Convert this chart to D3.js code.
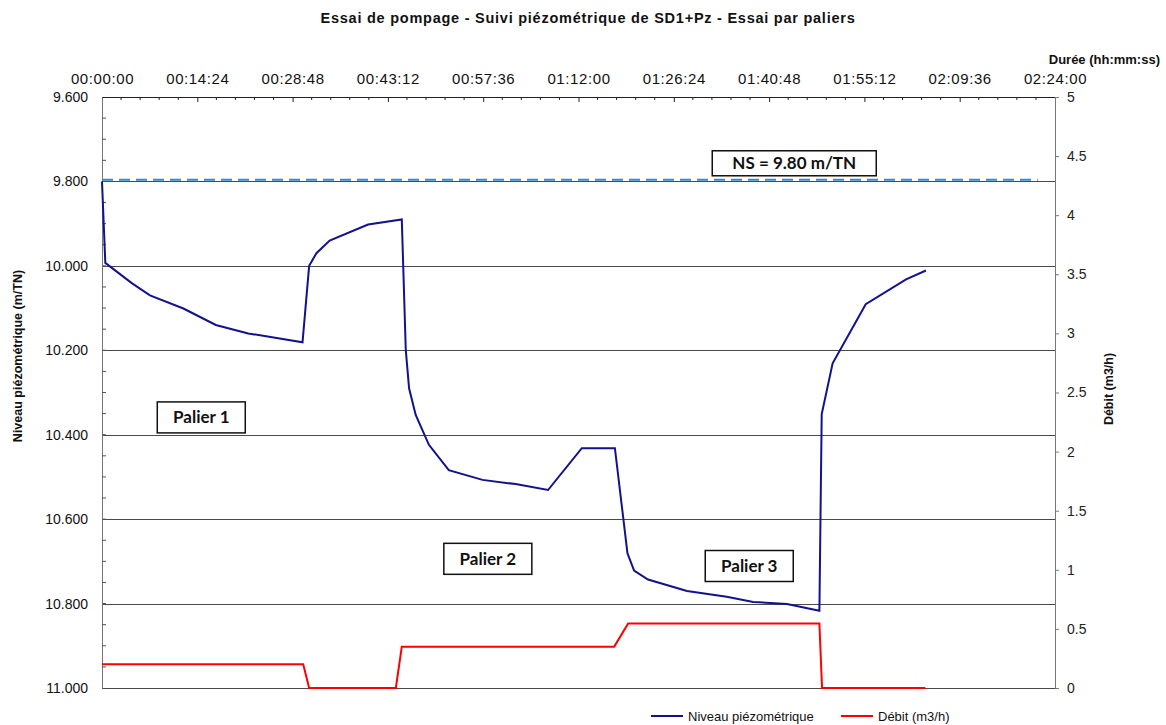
<!DOCTYPE html>
<html>
<head>
<meta charset="utf-8">
<script src="https://cdn.jsdelivr.net/npm/d3@7"></script>
<style>
  body { margin: 0; background: #fff; }
  svg { display: block; font-family: "Liberation Sans", Arial, sans-serif; }
</style>
</head>
<body>
<svg id="chart" width="1166" height="725"></svg>
<script>
// time in minutes since start of pumping
const niveauTime = [0, 0.5, 4.5, 7.25, 12.3, 17.2, 22.1, 30.3, 31.3, 32.4, 34.4, 40.2, 45.3, 45.9, 46.4, 47.4, 49.4, 52.4, 57.5, 62.5, 67.4, 72.5, 77.5, 79.4, 80.4, 82.5, 88.4, 94.4, 98.4, 103.5, 108.4, 108.75, 110.4, 115.4, 121.5, 124.5];
const niveauValue = [9.80, 9.993, 10.041, 10.070, 10.101, 10.140, 10.160, 10.181, 10.000, 9.970, 9.940, 9.902, 9.890, 10.199, 10.290, 10.353, 10.424, 10.484, 10.507, 10.517, 10.531, 10.432, 10.432, 10.681, 10.722, 10.743, 10.770, 10.784, 10.796, 10.801, 10.817, 10.351, 10.231, 10.091, 10.032, 10.011];

const debitTime = [0, 30.4, 31.3, 44.4, 45.3, 77.4, 79.5, 108.4, 108.8, 124.4];
const debitValue = [0.2, 0.2, 0, 0, 0.35, 0.35, 0.545, 0.545, 0, 0];

const nsTime = [0, 141.4];
const nsValue = [9.796, 9.796];

const xTicks = d3.range(0, 145, 14.4);          // minutes
const yLeftTicks = d3.range(9.6, 11.0001, 0.2);
const yRightTicks = d3.range(0, 5.0001, 0.5);

const labels = [
  { text: 'Palier 1', t: 15.0, v: 10.359 },
  { text: 'Palier 2', t: 58.3, v: 10.694 },
  { text: 'Palier 3', t: 97.8, v: 10.711 }
];
const nsLabel = { text: 'NS = 9.80 m/TN', t: 104.6, v: 9.757 };

const svg = d3.select('#chart');
const pLeft = 102, pRight = 1055, pTop = 97, pBottom = 688;

const x = d3.scaleLinear().domain([0, 144]).range([pLeft, pRight]);
const y = d3.scaleLinear().domain([9.6, 11.0]).range([pTop, pBottom]);
const y2 = d3.scaleLinear().domain([0, 5]).range([pBottom, pTop]);

function fmtTime(m) {
  const s = Math.round(m * 60);
  const hh = Math.floor(s / 3600), mm = Math.floor((s % 3600) / 60), ss = s % 60;
  return [hh, mm, ss].map(d => String(d).padStart(2, '0')).join(':');
}

// title
svg.append('text')
  .attr('x', 588).attr('y', 23)
  .attr('text-anchor', 'middle')
  .attr('font-weight', 'bold').attr('font-size', 14.5)
  .attr('letter-spacing', 0.75)
  .attr('fill', '#111')
  .text('Essai de pompage - Suivi piézométrique de SD1+Pz - Essai par paliers');

// gridlines
svg.append('g').selectAll('line')
  .data(yLeftTicks.slice(1))
  .join('line')
  .attr('x1', pLeft).attr('x2', pRight)
  .attr('y1', d => Math.round(y(d)) + 0.5).attr('y2', d => Math.round(y(d)) + 0.5)
  .attr('stroke', '#4a4a4a').attr('stroke-width', 1);

// top axis
const xAxis = svg.append('g')
  .attr('transform', `translate(0,${pTop})`)
  .call(d3.axisTop(x).tickValues(xTicks).tickFormat(fmtTime).tickSizeInner(-5).tickSizeOuter(0));
xAxis.select('.domain').attr('stroke', '#222');
xAxis.selectAll('.tick line').attr('stroke', '#222');
xAxis.selectAll('text').attr('dy', -13).attr('y', 0).attr('font-size', 15).attr('letter-spacing', 0.6)
  .attr('fill', '#111')
  .attr('font-family', '"Liberation Sans", Arial, sans-serif');
svg.append('g')
  .attr('transform', `translate(0,${pTop})`)
  .selectAll('line')
  .data(d3.range(0, 144, 2.88).filter(d => Math.abs(d % 14.4) > 0.01 && Math.abs(d % 14.4 - 14.4) > 0.01))
  .join('line')
  .attr('x1', d => x(d)).attr('x2', d => x(d))
  .attr('y1', 0).attr('y2', 3)
  .attr('stroke', '#222');

svg.append('text')
  .attr('x', 1160).attr('y', 64)
  .attr('text-anchor', 'end')
  .attr('font-weight', 'bold').attr('font-size', 13)
  .attr('fill', '#111')
  .text('Durée (hh:mm:ss)');

// left axis
const yAxis = svg.append('g')
  .attr('transform', `translate(${pLeft},0)`)
  .call(d3.axisLeft(y).tickValues(yLeftTicks).tickFormat(d3.format('.3f')).tickSize(0).tickPadding(14));
yAxis.select('.domain').attr('stroke', '#777');
yAxis.selectAll('text').attr('font-size', 14).attr('fill', '#111')
  .attr('font-family', '"Liberation Sans", Arial, sans-serif');
svg.append('g')
  .selectAll('line')
  .data(d3.range(9.65, 11.0, 0.05))
  .join('line')
  .attr('x1', pLeft).attr('x2', pLeft + 4)
  .attr('y1', d => y(d)).attr('y2', d => y(d))
  .attr('stroke', '#555');

svg.append('text')
  .attr('transform', `translate(22,356) rotate(-90)`)
  .attr('text-anchor', 'middle')
  .attr('font-weight', 'bold').attr('font-size', 12.5)
  .attr('fill', '#111')
  .text('Niveau piézométrique (m/TN)');

// right axis
const y2Axis = svg.append('g')
  .attr('transform', `translate(${pRight},0)`)
  .call(d3.axisRight(y2).tickValues(yRightTicks).tickFormat(d3.format('')).tickSizeInner(4).tickSizeOuter(0).tickPadding(8));
y2Axis.select('.domain').attr('stroke', '#777');
y2Axis.selectAll('.tick line').attr('stroke', '#777');
y2Axis.selectAll('text').attr('font-size', 14).attr('fill', '#222')
  .attr('font-family', '"Liberation Sans", Arial, sans-serif');

svg.append('text')
  .attr('transform', `translate(1113,389) rotate(-90)`)
  .attr('text-anchor', 'middle')
  .attr('font-weight', 'bold').attr('font-size', 12.5)
  .attr('fill', '#111')
  .text('Débit (m3/h)');

// NS line
svg.append('path')
  .datum(nsTime.map((t, i) => [t, nsValue[i]]))
  .attr('d', d3.line().x(d => x(d[0])).y(d => y(d[1])))
  .attr('fill', 'none')
  .attr('stroke', '#2f8bd6').attr('stroke-width', 2)
  .attr('stroke-dasharray', '11,6');

// series
svg.append('path')
  .datum(debitTime.map((t, i) => [t, debitValue[i]]))
  .attr('d', d3.line().x(d => x(d[0])).y(d => y2(d[1])))
  .attr('fill', 'none')
  .attr('stroke', '#ff0000').attr('stroke-width', 2);

svg.append('path')
  .datum(niveauTime.map((t, i) => [t, niveauValue[i]]))
  .attr('d', d3.line().x(d => x(d[0])).y(d => y(d[1])))
  .attr('fill', 'none')
  .attr('stroke', '#12128c').attr('stroke-width', 2);

// text boxes
function box(lbl, w, h) {
  const cx = x(lbl.t), cy = y(lbl.v);
  svg.append('rect')
    .attr('x', cx - w / 2).attr('y', cy - h / 2)
    .attr('width', w).attr('height', h)
    .attr('fill', '#fff').attr('stroke', '#111').attr('stroke-width', 1.5);
  svg.append('text')
    .attr('x', cx).attr('y', cy + 6)
    .attr('text-anchor', 'middle')
    .attr('font-family', 'Lato, "Open Sans", sans-serif')
    .attr('font-weight', 'bold').attr('font-size', 17)
    .attr('fill', '#111')
    .text(lbl.text);
}
labels.forEach(l => box(l, 88, 31));
box(nsLabel, 164, 25);

// legend
const legend = [
  { name: 'Niveau piézométrique', color: '#12128c', x: 651 },
  { name: 'Débit (m3/h)', color: '#ff0000', x: 841 }
];
const lg = svg.append('g').selectAll('g').data(legend).join('g')
  .attr('transform', d => `translate(${d.x},716)`);
lg.append('line')
  .attr('x1', 0).attr('x2', 32)
  .attr('stroke', d => d.color).attr('stroke-width', 2);
lg.append('text')
  .attr('x', 37).attr('y', 4.5)
  .attr('font-size', 13).attr('fill', '#111')
  .text(d => d.name);
</script>
</body>
</html>
